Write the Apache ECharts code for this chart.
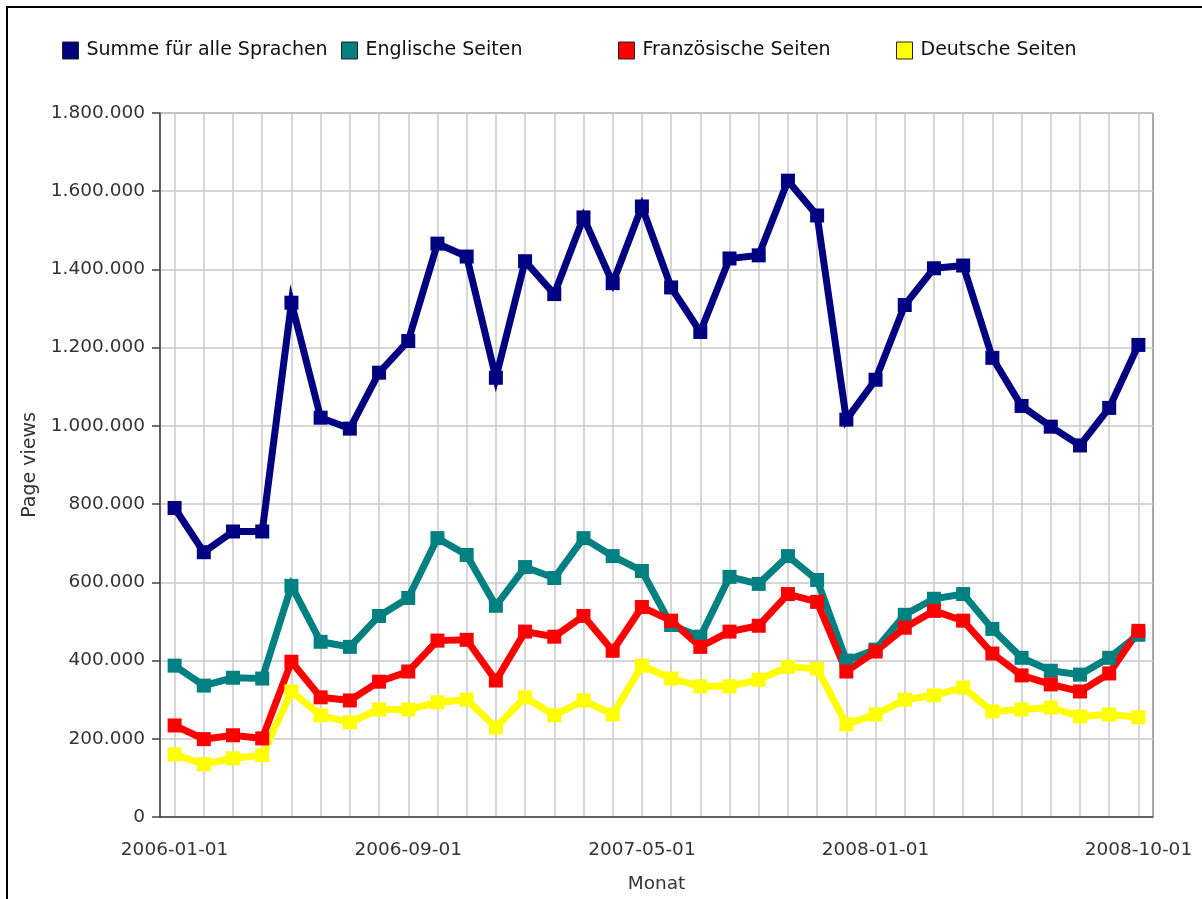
<!DOCTYPE html>
<html>
<head>
<meta charset="utf-8">
<script src="https://cdn.jsdelivr.net/npm/echarts@6/dist/echarts.min.js"></script>
<style>
html,body{margin:0;padding:0;background:#fff;}
#chart{width:1202px;height:899px;}
</style>
</head>
<body>
<div id="chart"></div>
<script>
const months = [
  '2006-01-01','2006-02-01','2006-03-01','2006-04-01','2006-05-01','2006-06-01','2006-07-01','2006-08-01',
  '2006-09-01','2006-10-01','2006-11-01','2006-12-01','2007-01-01','2007-02-01','2007-03-01','2007-04-01',
  '2007-05-01','2007-06-01','2007-07-01','2007-08-01','2007-09-01','2007-10-01','2007-11-01','2007-12-01',
  '2008-01-01','2008-02-01','2008-03-01','2008-04-01','2008-05-01','2008-06-01','2008-07-01','2008-08-01',
  '2008-09-01','2008-10-01'
];
const xTickLabels = ['2006-01-01','2006-09-01','2007-05-01','2008-01-01','2008-10-01'];
const seriesNames = ['Summe für alle Sprachen','Englische Seiten','Französische Seiten','Deutsche Seiten'];
const summe = [790000,677000,730000,730000,1315000,1021000,993000,1136000,1217000,1466000,1433000,1123000,
  1421000,1337000,1533000,1365000,1561000,1354000,1240000,1428000,1436000,1627000,1538000,1016000,
  1118000,1309000,1403000,1410000,1174000,1051000,998000,950000,1046000,1207000];
const englisch = [387000,336000,356000,354000,591000,448000,435000,514000,560000,713000,670000,540000,
  639000,611000,713000,667000,629000,491000,461000,614000,596000,667000,606000,400000,
  428000,517000,558000,570000,481000,407000,374000,364000,407000,466000];
const franzoesisch = [234000,199000,209000,201000,397000,306000,298000,346000,372000,451000,453000,349000,
  474000,461000,514000,425000,537000,502000,435000,474000,489000,570000,550000,372000,
  423000,484000,527000,502000,418000,362000,339000,321000,367000,476000];
const deutsch = [160000,135000,150000,158000,321000,260000,242000,275000,275000,293000,300000,229000,
  306000,260000,298000,262000,387000,354000,334000,334000,351000,384000,379000,237000,
  262000,300000,311000,331000,270000,275000,280000,257000,262000,255000];
const colors = ['#000080','#008080','#ff0000','#ffff00'];
const yMax = 1800000, yStep = 200000;
const legendLeft = [62, 341, 618, 896];

const FONT = 'DejaVu Sans';
function fmtDE(v){ return String(v).replace(/\B(?=(\d{3})+(?!\d))/g, '.'); }
function showLabel(i){ return xTickLabels.indexOf(months[i]) >= 0; }

const values = [summe, englisch, franzoesisch, deutsch];
const chart = echarts.init(document.getElementById('chart'), null, {renderer:'canvas'});
chart.setOption({
  backgroundColor:'#fff',
  animation:false,
  graphic:[{type:'rect', shape:{x:7,y:7,width:1220,height:920}, style:{fill:'none', stroke:'#000', lineWidth:2}, silent:true}],
  legend: seriesNames.map((n,i)=>({
    data:[n], left:legendLeft[i], top:41, padding:0, icon:'rect', itemWidth:16, itemHeight:17,
    itemStyle:{borderColor:'#222', borderWidth:1},
    textStyle:{fontFamily:FONT, fontSize:19, color:'#111', padding:[0,0,0,3]},
    selectedMode:false
  })),
  grid:{left:160, top:113, width:993, height:707, show:true, borderColor:'#555', borderWidth:1, backgroundColor:'#fff'},
  xAxis:{
    type:'category', data:months, boundaryGap:true,
    name:'Monat', nameLocation:'middle', nameGap:58,
    nameTextStyle:{fontFamily:FONT, fontSize:18.5, color:'#333'},
    axisLine:{lineStyle:{color:'#444', width:1.5}},
    axisTick:{alignWithLabel:true, interval:(i)=>showLabel(i), length:8, lineStyle:{color:'#444', width:1.5}},
    axisLabel:{interval:(i)=>showLabel(i), fontFamily:FONT, fontSize:18.5, color:'#333', margin:24, hideOverlap:false},
    splitLine:{show:true, interval:0, alignWithLabel:true, lineStyle:{color:'#c8c8c8', width:1.5}}
  },
  yAxis:{
    type:'value', min:0, max:yMax, interval:yStep,
    name:'Page views', nameLocation:'middle', nameGap:118, nameRotate:90,
    nameTextStyle:{fontFamily:FONT, fontSize:19, color:'#333'},
    axisLine:{show:true, lineStyle:{color:'#444', width:1.5}},
    axisTick:{show:true, length:8, lineStyle:{color:'#444', width:1.5}},
    axisLabel:{formatter:fmtDE, fontFamily:FONT, fontSize:18.5, color:'#333', margin:15},
    splitLine:{show:true, lineStyle:{color:'#c8c8c8', width:1.5}}
  },
  series: seriesNames.map((n,i)=>({
    name:n, type:'line', data:values[i], symbol:'rect', symbolSize:14, showSymbol:true,
    itemStyle:{color:colors[i]},
    lineStyle:{color:colors[i], width:7, join:'miter', miterLimit:10},
    emphasis:{disabled:true}
  }))
});
</script>
</body>
</html>
